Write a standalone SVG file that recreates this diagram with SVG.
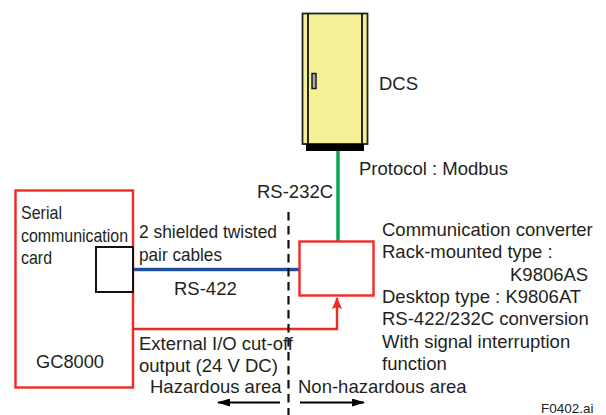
<svg xmlns="http://www.w3.org/2000/svg" width="606" height="415" viewBox="0 0 606 415">
<style>
text{font-family:"Liberation Sans",Arial,sans-serif;font-size:18.5px;fill:#231f20}
.red{fill:none;stroke:#ee2a24;stroke-width:2.4}
.k{stroke:#111;stroke-width:1.8;fill:none}
</style>
<defs>
<marker id="ar" markerUnits="userSpaceOnUse" markerWidth="12" markerHeight="10" refX="11" refY="5" orient="auto"><path d="M0 0L12 5L0 10L2 5Z" fill="#ee2a24"/></marker>
<marker id="ab" markerUnits="userSpaceOnUse" markerWidth="13" markerHeight="8" refX="12" refY="4" orient="auto"><path d="M0 0L13 4L0 8Z" fill="#000"/></marker>
</defs>
<g id="connectors">
<line x1="338" y1="151" x2="338" y2="241" stroke="#00a651" stroke-width="3.4"/>
<line x1="134" y1="269.500" x2="299" y2="269.500" stroke="#9db4d6" stroke-width="4"/>
<line x1="134" y1="269.500" x2="299" y2="269.500" stroke="#1f4ea1" stroke-width="2.800"/>
<path d="M134 329H337V298" fill="none" stroke="#ee2a24" stroke-width="2.400" marker-end="url(#ar)"/>
<line x1="288.500" y1="212" x2="288.500" y2="415" stroke="#111" stroke-width="2.200" stroke-dasharray="8.500 5.500"/>
<line x1="280" y1="402.500" x2="218" y2="402.500" stroke="#000" stroke-width="2" marker-end="url(#ab)"/>
<line x1="300" y1="402.500" x2="364" y2="402.500" stroke="#000" stroke-width="2" marker-end="url(#ab)"/>
</g>
<g id="dcs">
<rect x="302.500" y="13.500" width="65" height="130.500" fill="#f6f199" stroke="#222" stroke-width="1.800"/>
<line x1="308" y1="13.500" x2="308" y2="144" class="k"/>
<line x1="362" y1="13.500" x2="362" y2="144" class="k"/>
<rect x="306" y="144" width="58" height="7" fill="#000"/>
<rect x="312" y="73.500" width="4" height="15" fill="#aaa" stroke="#111" stroke-width="1.400"/>
<text x="379" y="90">DCS</text>
</g>
<g id="gc8000">
<rect x="15.500" y="190.500" width="117.500" height="197" class="red"/>
<rect x="96" y="247" width="37" height="45" fill="#fff" stroke="#111" stroke-width="2"/>
<text x="21" y="219" textLength="41" lengthAdjust="spacingAndGlyphs">Serial</text>
<text x="21" y="242" textLength="107" lengthAdjust="spacingAndGlyphs">communication</text>
<text x="21" y="264" textLength="31" lengthAdjust="spacingAndGlyphs">card</text>
<text x="36" y="368" textLength="68" lengthAdjust="spacingAndGlyphs">GC8000</text>
</g>
<g id="converter">
<rect x="299.500" y="241.500" width="74" height="54" class="red" style="fill:#fff"/>
<text x="382" y="236">Communication converter</text>
<text x="382" y="258">Rack-mounted type :</text>
<text x="510" y="281">K9806AS</text>
<text x="382" y="303">Desktop type : K9806AT</text>
<text x="382" y="325">RS-422/232C conversion</text>
<text x="382" y="348">With signal interruption</text>
<text x="382" y="370">function</text>
</g>
<g id="labels">
<text x="359" y="175">Protocol : Modbus</text>
<text x="257" y="198">RS-232C</text>
<text x="139" y="238" textLength="138" lengthAdjust="spacingAndGlyphs">2 shielded twisted</text>
<text x="139" y="261" textLength="83" lengthAdjust="spacingAndGlyphs">pair cables</text>
<text x="174" y="295">RS-422</text>
<text x="139" y="350">External I/O cut-off</text>
<text x="139" y="372">output (24 V DC)</text>
<text x="150" y="393">Hazardous area</text>
<text x="298" y="393">Non-hazardous area</text>
<text x="541" y="413" style="font-size:13.5px">F0402.ai</text>
</g>
</svg>
